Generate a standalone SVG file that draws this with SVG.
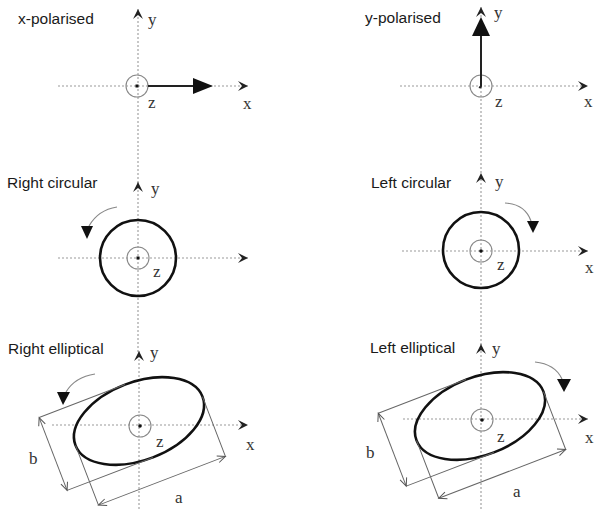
<svg xmlns="http://www.w3.org/2000/svg" width="595" height="509" viewBox="0 0 595 509">
<defs>
<marker id="ax" markerUnits="userSpaceOnUse" markerWidth="14" markerHeight="14" viewBox="-12 -7 14 14" refX="0" refY="0" orient="auto">
<path d="M0,0 L-10,-5 L-6,0 L-10,5 Z" fill="#222"/>
</marker>
<marker id="dim" markerUnits="userSpaceOnUse" markerWidth="12" markerHeight="12" viewBox="-10 -6 12 12" refX="0" refY="0" orient="auto-start-reverse">
<path d="M-8,-3.5 L0,0 L-8,3.5" fill="none" stroke="#555" stroke-width="1"/>
</marker>
</defs>
<style>
.axis{stroke:#9a9a9a;stroke-width:1.1;stroke-dasharray:2 2;fill:none;marker-end:url(#ax)}
.small{fill:none;stroke:#888;stroke-width:1.1}
.big{fill:none;stroke:#111;stroke-width:2.6}
.dot{fill:#111}
.lbl{font-family:"Liberation Sans",Arial,sans-serif;font-size:15.5px;fill:#1a1a1a}
.v{font-family:"Liberation Serif","Times New Roman",serif;font-size:17px;fill:#333}
.rot{fill:none;stroke:#888;stroke-width:1.2}
.tri{fill:#111}
.dl{fill:none;stroke:#666;stroke-width:1}
.da{fill:none;stroke:#666;stroke-width:1;marker-start:url(#dim);marker-end:url(#dim)}
.vec{stroke:#222;stroke-width:2;fill:none}
</style>

<g id="x-polarised">
<text class="lbl" x="18" y="24">x-polarised</text>
<line class="axis" x1="138" y1="183" x2="138" y2="9"/>
<line class="axis" x1="58" y1="86" x2="248" y2="86"/>
<circle class="small" cx="137" cy="86" r="11"/>
<rect class="dot" x="135.5" y="84.5" width="3" height="3"/>
<line class="vec" x1="148" y1="86" x2="196" y2="86"/>
<polygon class="tri" points="193,78 213,86 193,94"/>
<text class="v" x="148" y="25">y</text>
<text class="v" x="148" y="108">z</text>
<text class="v" x="243" y="109">x</text>
</g>

<g id="y-polarised">
<text class="lbl" x="365" y="23">y-polarised</text>
<line class="axis" x1="481" y1="173" x2="481" y2="7"/>
<line class="axis" x1="400" y1="86" x2="588" y2="86"/>
<circle class="small" cx="481" cy="86" r="11"/>
<path class="vec" d="M481,33 L481,86 Q481,88 479,87"/>
<polygon class="tri" points="472,36 490,36 481,17"/>
<text class="v" x="494" y="18">y</text>
<text class="v" x="495" y="107">z</text>
<text class="v" x="584" y="107">x</text>
</g>

<g id="right-circular">
<text class="lbl" x="7" y="188">Right circular</text>
<line class="axis" x1="138" y1="352" x2="138" y2="182"/>
<line class="axis" x1="58" y1="258" x2="248" y2="258"/>
<circle class="big" cx="138" cy="258" r="38"/>
<circle class="small" cx="138" cy="258" r="11"/>
<rect class="dot" x="136.5" y="256.5" width="3" height="3"/>
<path class="rot" d="M117,207 Q98,210 89,226"/>
<polygon class="tri" points="81,226 93,226 87,239"/>
<text class="v" x="151" y="194">y</text>
<text class="v" x="153" y="277">z</text>
</g>

<g id="left-circular">
<text class="lbl" x="371" y="188">Left circular</text>
<line class="axis" x1="481" y1="345" x2="481" y2="173"/>
<line class="axis" x1="402" y1="251" x2="588" y2="251"/>
<circle class="big" cx="481" cy="250" r="38"/>
<circle class="small" cx="481" cy="251" r="11"/>
<circle class="dot" cx="481" cy="251" r="1.8"/>
<path class="rot" d="M505,203 Q525,204 531,221"/>
<polygon class="tri" points="527,221 539,221 533,233"/>
<text class="v" x="495" y="187">y</text>
<text class="v" x="497" y="270">z</text>
<text class="v" x="585" y="273">x</text>
</g>

<g id="right-elliptical">
<text class="lbl" x="8" y="354">Right elliptical</text>
<line class="axis" x1="139" y1="509" x2="139" y2="351"/>
<line class="axis" x1="52" y1="425" x2="248" y2="425"/>
<g transform="translate(139,421) rotate(-21)">
<ellipse class="big" cx="0" cy="0" rx="68" ry="39"/>
<path class="dl" d="M-92,-39 L0,-39 M-92,39 L0,39 M-68,0 L-68,64 M68,0 L68,64"/>
<line class="da" x1="-92" y1="-39" x2="-92" y2="39"/>
<line class="da" x1="-68" y1="64" x2="68" y2="64"/>
</g>
<circle class="small" cx="140" cy="426" r="11"/>
<circle class="dot" cx="140" cy="426" r="1.8"/>
<path class="rot" d="M95,374 Q75,377 66,392"/>
<polygon class="tri" points="57,392 70,392 63,405"/>
<text class="v" x="150" y="358">y</text>
<text class="v" x="156" y="447">z</text>
<text class="v" x="246" y="450">x</text>
<text class="v" x="29" y="464">b</text>
<text class="v" x="175" y="503">a</text>
</g>

<g id="left-elliptical">
<text class="lbl" x="370" y="353">Left elliptical</text>
<line class="axis" x1="481" y1="509" x2="481" y2="344"/>
<line class="axis" x1="403" y1="419" x2="588" y2="419"/>
<g transform="translate(480,416) rotate(-21)">
<ellipse class="big" cx="0" cy="0" rx="68" ry="39"/>
<path class="dl" d="M-94,-39 L0,-39 M-94,39 L0,39 M-68,0 L-68,62 M68,0 L68,62"/>
<line class="da" x1="-94" y1="-39" x2="-94" y2="39"/>
<line class="da" x1="-68" y1="62" x2="68" y2="62"/>
</g>
<circle class="small" cx="482" cy="420" r="11"/>
<circle class="dot" cx="482" cy="420" r="1.8"/>
<path class="rot" d="M535,362 Q555,364 562,379"/>
<polygon class="tri" points="557,379 571,379 564,392"/>
<text class="v" x="492" y="354">y</text>
<text class="v" x="497" y="442">z</text>
<text class="v" x="585" y="443">x</text>
<text class="v" x="366" y="458">b</text>
<text class="v" x="513" y="497">a</text>
</g>
</svg>
